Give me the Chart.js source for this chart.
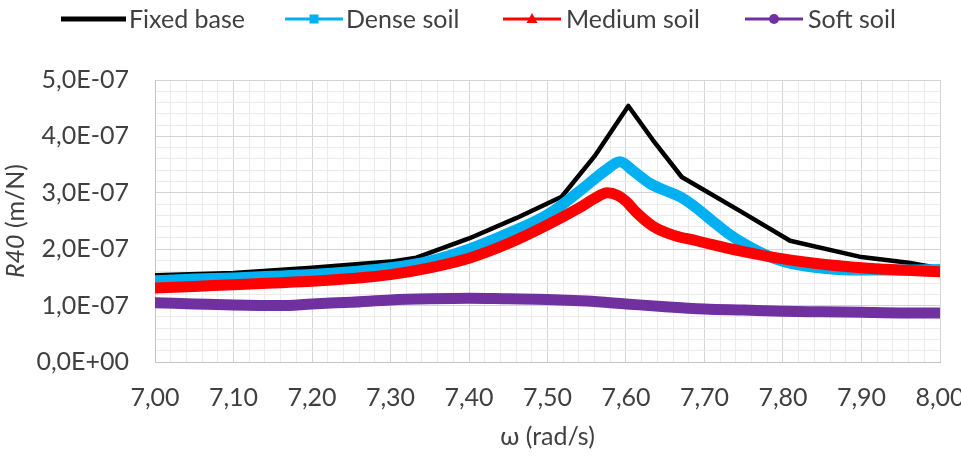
<!DOCTYPE html>
<html>
<head>
<meta charset="utf-8">
<script src="https://cdn.jsdelivr.net/npm/chart.js@4/dist/chart.umd.min.js"></script>
<style>
  html, body { margin: 0; padding: 0; background: #ffffff; }
  #wrap { width: 961px; height: 458px; }
</style>
</head>
<body>
<div id="wrap"><canvas id="c" width="961" height="458"></canvas></div>
<script>
// ---- DATA (R40 values in units of 1e-7 m/N) ----
const seriesNames = ['Fixed base', 'Dense soil', 'Medium soil', 'Soft soil'];

const fixedOmega = [7.00, 7.10, 7.20, 7.30, 7.333, 7.40, 7.46, 7.518, 7.56, 7.603, 7.634, 7.671, 7.745, 7.809, 7.90, 7.96, 8.00];
const fixedR40   = [1.54, 1.58, 1.67, 1.78, 1.85, 2.19, 2.55, 2.93, 3.65, 4.54, 3.94, 3.28, 2.68, 2.15, 1.86, 1.76, 1.66];

const denseOmega = [7.00, 7.05, 7.10, 7.15, 7.20, 7.25, 7.30, 7.35, 7.40, 7.45, 7.50, 7.54, 7.576, 7.592, 7.61, 7.63, 7.65, 7.67, 7.69, 7.71, 7.73, 7.75, 7.77, 7.79, 7.81, 7.84, 7.87, 7.90, 7.95, 8.00];
const denseR40   = [1.44, 1.47, 1.49, 1.52, 1.55, 1.60, 1.67, 1.79, 2.00, 2.28, 2.61, 3.02, 3.42, 3.55, 3.38, 3.17, 3.04, 2.92, 2.73, 2.50, 2.28, 2.10, 1.95, 1.83, 1.75, 1.68, 1.64, 1.63, 1.63, 1.64];

const mediumOmega = [7.00, 7.05, 7.10, 7.15, 7.20, 7.25, 7.30, 7.35, 7.40, 7.45, 7.50, 7.54, 7.56, 7.576, 7.59, 7.60, 7.614, 7.634, 7.66, 7.69, 7.71, 7.745, 7.79, 7.84, 7.90, 7.95, 8.00];
const mediumR40   = [1.31, 1.34, 1.37, 1.40, 1.43, 1.48, 1.55, 1.67, 1.84, 2.10, 2.43, 2.73, 2.90, 3.00, 2.95, 2.85, 2.64, 2.41, 2.25, 2.15, 2.08, 1.97, 1.85, 1.75, 1.67, 1.63, 1.60];

const softOmega = [7.00, 7.05, 7.10, 7.16, 7.20, 7.25, 7.30, 7.35, 7.40, 7.45, 7.50, 7.55, 7.60, 7.65, 7.70, 7.75, 7.80, 7.85, 7.90, 7.95, 8.00];
const softR40   = [1.05, 1.03, 1.01, 1.00, 1.03, 1.06, 1.10, 1.12, 1.13, 1.12, 1.11, 1.08, 1.03, 0.98, 0.94, 0.92, 0.90, 0.89, 0.88, 0.87, 0.87];

const unitScale = 1e-7;
const xMin = 7.0, xMax = 8.0, xMinorStep = 0.02, xMajorEvery = 5;
const yMin = 0, yMax = 5e-7, yMinorStep = 2e-8, yMajorEvery = 5;
const xTitle = 'ω (rad/s)';
const yTitleItalic = 'R40';
const yTitleRest = ' (m/N)';

// ---- STYLE ----
const FONT = 'Lato';
const FS = 25;
const TEXT = '#404040';
const colors = ['#000000', '#00B0F0', '#FF0000', '#7030A0'];
const widths = [4.5, 11, 11, 11];

function pts(ws, rs) { return ws.map((w, i) => ({ x: w, y: rs[i] * unitScale })); }

const datasets = [
  { label: seriesNames[0], data: pts(fixedOmega, fixedR40), borderColor: colors[0], borderWidth: widths[0], tension: 0, order: 4 },
  { label: seriesNames[1], data: pts(denseOmega, denseR40), borderColor: colors[1], borderWidth: widths[1], cubicInterpolationMode: 'monotone', order: 3 },
  { label: seriesNames[2], data: pts(mediumOmega, mediumR40), borderColor: colors[2], borderWidth: widths[2], cubicInterpolationMode: 'monotone', order: 2 },
  { label: seriesNames[3], data: pts(softOmega, softR40), borderColor: colors[3], borderWidth: widths[3], cubicInterpolationMode: 'monotone', order: 1 }
].map(d => Object.assign({ pointRadius: 0, fill: false, borderJoinStyle: 'round', borderCapStyle: 'round' }, d));

// Legend layout (pixel positions of the drawn legend)
const legendLayout = [
  { x1: 61,  x2: 126, tx: 129, marker: null,       lw: 5 },
  { x1: 285, x2: 343, tx: 346, marker: 'square',   lw: 3 },
  { x1: 503, x2: 561, tx: 566, marker: 'triangle', lw: 3 },
  { x1: 745, x2: 803, tx: 808, marker: 'circle',   lw: 3 }
];
const legendY = 19;

const legendPlugin = {
  id: 'customLegend',
  afterDraw(chart) {
    const ctx = chart.ctx;
    ctx.save();
    ctx.font = FS + 'px ' + FONT;
    ctx.textBaseline = 'middle';
    ctx.textAlign = 'left';
    legendLayout.forEach((it, i) => {
      ctx.strokeStyle = colors[i];
      ctx.fillStyle = colors[i];
      ctx.lineWidth = it.lw;
      ctx.beginPath();
      ctx.moveTo(it.x1, legendY);
      ctx.lineTo(it.x2, legendY);
      ctx.stroke();
      const cx = (it.x1 + it.x2) / 2;
      if (it.marker === 'square') {
        ctx.fillRect(cx - 4.5, legendY - 4.5, 9, 9);
      } else if (it.marker === 'triangle') {
        ctx.beginPath();
        ctx.moveTo(cx, legendY - 6);
        ctx.lineTo(cx + 5.5, legendY + 4);
        ctx.lineTo(cx - 5.5, legendY + 4);
        ctx.closePath();
        ctx.fill();
      } else if (it.marker === 'circle') {
        ctx.beginPath();
        ctx.arc(cx, legendY, 5, 0, Math.PI * 2);
        ctx.fill();
      }
      ctx.fillStyle = TEXT;
      ctx.fillText(seriesNames[i], it.tx, legendY + 1);
    });
    ctx.restore();
  }
};

const yTitlePlugin = {
  id: 'yTitle',
  afterDraw(chart) {
    const ctx = chart.ctx;
    const area = chart.chartArea;
    ctx.save();
    ctx.translate(16, (area.top + area.bottom) / 2);
    ctx.rotate(-Math.PI / 2);
    ctx.textBaseline = 'middle';
    ctx.textAlign = 'left';
    ctx.fillStyle = TEXT;
    const fi = 'italic ' + FS + 'px ' + FONT;
    const fn = FS + 'px ' + FONT;
    ctx.font = fi; const w1 = ctx.measureText(yTitleItalic).width;
    ctx.font = fn; const w2 = ctx.measureText(yTitleRest).width;
    const x0 = -(w1 + w2) / 2;
    ctx.font = fi; ctx.fillText(yTitleItalic, x0, 0);
    ctx.font = fn; ctx.fillText(yTitleRest, x0 + w1, 0);
    ctx.restore();
  }
};

function isMajor(v, min, step, every) {
  return Math.round((v - min) / step) % every === 0;
}
function fmtY(v) {
  const n = Math.round(v / unitScale);
  if (n === 0) return '0,0E+00';
  return n.toFixed(1).replace('.', ',') + 'E-07';
}

const MAJOR = '#D4D4D4', MINOR = '#EBEBEB';

new Chart(document.getElementById('c'), {
  type: 'line',
  data: { datasets },
  plugins: [legendPlugin, yTitlePlugin],
  options: {
    responsive: false,
    animation: false,
    devicePixelRatio: 1,
    layout: { padding: { top: 80, right: 21, left: 0, bottom: 0 } },
    plugins: { legend: { display: false }, tooltip: { enabled: false } },
    scales: {
      x: {
        type: 'linear', min: xMin, max: xMax,
        afterFit(s) { s.height = 96; s.paddingLeft = 0; s.paddingRight = 0; },
        ticks: {
          stepSize: xMinorStep, maxTicksLimit: 1000, autoSkip: false, maxRotation: 0, minRotation: 0,
          padding: 21, color: TEXT, font: { family: FONT, size: FS },
          callback: (v) => isMajor(v, xMin, xMinorStep, xMajorEvery) ? v.toFixed(2).replace('.', ',') : ''
        },
        grid: {
          drawTicks: false, lineWidth: 1,
          color: (c) => (c.tick && isMajor(c.tick.value, xMin, xMinorStep, xMajorEvery)) ? MAJOR : MINOR
        },
        border: { display: true, color: '#C4C4C4', width: 1 },
        title: { display: true, text: xTitle, color: TEXT, font: { family: FONT, size: FS }, padding: { top: 0, bottom: 6 } }
      },
      y: {
        type: 'linear', min: yMin, max: yMax,
        afterFit(s) { s.width = 155; s.paddingTop = 0; s.paddingBottom = 0; },
        ticks: {
          stepSize: yMinorStep, maxTicksLimit: 1000, autoSkip: false,
          padding: 26, color: TEXT, font: { family: FONT, size: FS },
          callback: (v) => isMajor(v, yMin, yMinorStep, yMajorEvery) ? fmtY(v) : ''
        },
        grid: {
          drawTicks: false, lineWidth: 1,
          color: (c) => (c.tick && isMajor(c.tick.value, yMin, yMinorStep, yMajorEvery)) ? MAJOR : MINOR
        },
        border: { display: true, color: '#C4C4C4', width: 1 },
        title: { display: false }
      }
    }
  }
});
</script>
</body>
</html>
